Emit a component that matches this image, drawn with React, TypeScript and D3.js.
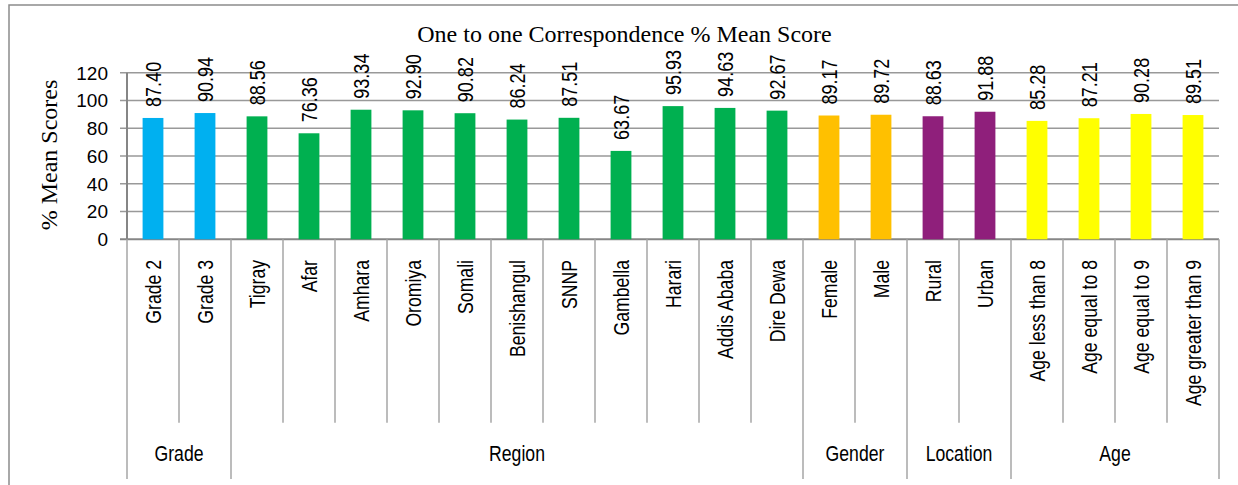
import React from "react";
import * as d3 from "d3";

const categories = [
  "Grade 2", "Grade 3",
  "Tigray", "Afar", "Amhara", "Oromiya", "Somali", "Benishangul", "SNNP", "Gambella", "Harari", "Addis Ababa", "Dire Dewa",
  "Female", "Male",
  "Rural", "Urban",
  "Age less than 8", "Age equal to 8", "Age equal to 9", "Age greater than 9",
];
const values = [
  87.40, 90.94,
  88.56, 76.36, 93.34, 92.90, 90.82, 86.24, 87.51, 63.67, 95.93, 94.63, 92.67,
  89.17, 89.72,
  88.63, 91.88,
  85.28, 87.21, 90.28, 89.51,
];
const groupNames = ["Grade", "Region", "Gender", "Location", "Age"];
const groupSizes = [2, 11, 2, 2, 4];
const groupColors = ["#00B0F0", "#00B050", "#FFC000", "#8F1F7B", "#FFFF00"];
const yTicks = [0, 20, 40, 60, 80, 100, 120];
const title = "One to one Correspondence % Mean Score";
const yTitle = "% Mean Scores";

const W = 1238, H = 485;
const plot = { left: 127, right: 1219, top: 72.7, bottom: 239.3 };
const tickBottom = 422.7;
const groupBottom = 479;
const narrow = "'Liberation Sans', Arial, sans-serif";
const serif = "'Liberation Serif', 'Times New Roman', serif";
const sans = "'Liberation Sans', Arial, sans-serif";
const NX = 0.82;

export default function App() {
  const x = d3.scaleBand<string>().domain(categories).range([plot.left, plot.right]).paddingInner(0.6).paddingOuter(0.3);
  const y = d3.scaleLinear().domain([0, 120]).range([plot.bottom, plot.top]);
  const step = x.step();
  const groupStarts: number[] = [];
  let acc = 0;
  groupSizes.forEach((s) => { groupStarts.push(acc); acc += s; });
  const colorOf = (i: number) => {
    let g = 0;
    for (let k = 0; k < groupSizes.length; k++) if (i >= groupStarts[k]) g = k;
    return groupColors[g];
  };
  const edgeX = (i: number) => plot.left + i * step;
  const groupBoundaries = new Set<number>([0, ...groupStarts.slice(1), categories.length]);

  return (
    <svg width={W} height={H} style={{ position: "absolute", left: 0, top: 0, display: "block", background: "#fff" }}>
      <rect x={9} y={5} width={W + 20} height={H + 20} fill="#fff" stroke="#8c8c8c" strokeWidth={1.5} />
      <text x={624.5} y={42} textAnchor="middle" fontFamily={serif} fontSize={24} fill="#000">{title}</text>
      <text transform={`translate(57,155) rotate(-90)`} textAnchor="middle" fontFamily={serif} fontSize={24} fill="#000">{yTitle}</text>
      {yTicks.map((t) => (
        <g key={t}>
          <line x1={plot.left - 7} x2={plot.right} y1={y(t)} y2={y(t)} stroke={t === 0 ? "#868686" : "#999"} strokeWidth={t === 0 ? 2 : 1.5} />
          <text x={108} y={y(t)} dy="0.36em" textAnchor="end" fontFamily={sans} fontSize={19} fill="#000">{t}</text>
        </g>
      ))}
      <line x1={plot.left} x2={plot.left} y1={plot.top} y2={plot.bottom} stroke="#868686" strokeWidth={2} />
      {categories.map((c, i) => (
        <rect key={c} x={x(c)} y={y(values[i])} width={x.bandwidth()} height={y(0) - y(values[i])} fill={colorOf(i)} />
      ))}
      {categories.map((c, i) => (
        <text key={c + "v"} transform={`translate(${(x(c) as number) + x.bandwidth() / 2},${y(values[i]) - 11}) rotate(-90) scale(${NX},1)`} dy="0.36em" textAnchor="start" fontFamily={narrow} fontSize={22} fill="#000">{values[i].toFixed(2)}</text>
      ))}
      {d3.range(categories.length + 1).map((i) => (
        <line key={"d" + i} x1={edgeX(i)} x2={edgeX(i)} y1={plot.bottom} y2={groupBoundaries.has(i) ? groupBottom : tickBottom} stroke="#a6a6a6" strokeWidth={1.5} />
      ))}
      {categories.map((c, i) => (
        <text key={c + "l"} transform={`translate(${(x(c) as number) + x.bandwidth() / 2},260) rotate(-90) scale(${NX},1)`} dy="0.36em" textAnchor="end" fontFamily={narrow} fontSize={21.5} fill="#000">{c}</text>
      ))}
      {groupNames.map((g, k) => (
        <text key={g} transform={`translate(${(edgeX(groupStarts[k]) + edgeX(groupStarts[k] + groupSizes[k])) / 2},461) scale(${NX},1)`} textAnchor="middle" fontFamily={narrow} fontSize={21.5} fill="#000">{g}</text>
      ))}
    </svg>
  );
}
